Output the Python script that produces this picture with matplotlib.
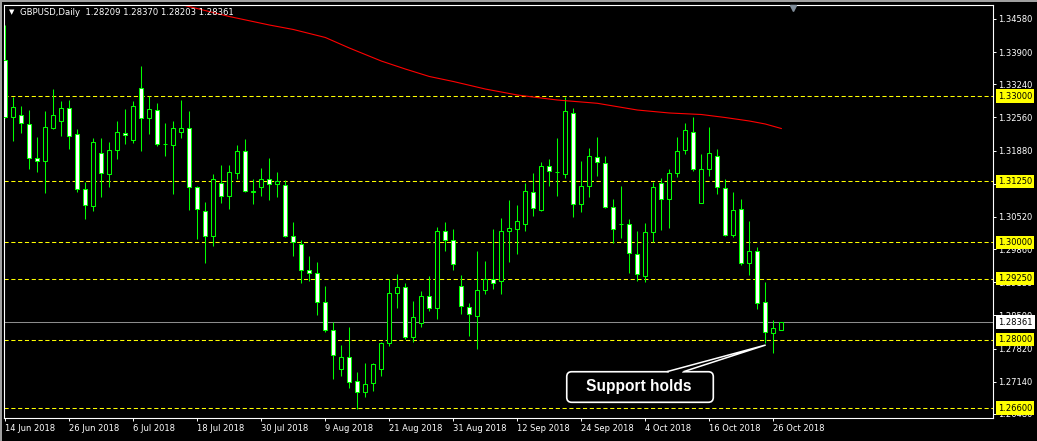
import matplotlib
matplotlib.use("Agg")
import matplotlib.pyplot as plt
from matplotlib.patches import Rectangle, FancyBboxPatch, Polygon
from matplotlib.transforms import blended_transform_factory

plt.rcParams['lines.scale_dashes'] = False
plt.rcParams['font.family'] = ['DejaVu Sans']

# GBPUSD daily candles, 14 Jun 2018 .. 29 Oct 2018 (one entry per trading day)
opens = [1.33739, 1.32564, 1.32605, 1.32426, 1.31723, 1.31661, 1.32350, 1.32494, 1.32748, 1.32215,
         1.31087, 1.30738, 1.31825, 1.31395, 1.31887, 1.32236, 1.32092, 1.33159, 1.32543, 1.32707,
         1.32020, 1.32002, 1.32256, 1.32338, 1.31128, 1.30636, 1.30123, 1.31210, 1.30943, 1.31427,
         1.31866, 1.31038, 1.31128, 1.31292, 1.31190, 1.31169, 1.30123, 1.29965, 1.29425, 1.29364,
         1.28781, 1.28195, 1.27394, 1.27641, 1.27148, 1.26923, 1.27107, 1.27394, 1.27928, 1.28966,
         1.29077, 1.28063, 1.28350, 1.28892, 1.28658, 1.30225, 1.30041, 1.29097, 1.28666, 1.28494,
         1.29015, 1.29241, 1.29200, 1.30225, 1.30279, 1.30381, 1.31025, 1.30668, 1.31559, 1.31440,
         1.31407, 1.32646, 1.30792, 1.31148, 1.31756, 1.31620, 1.30718, 1.30365, 1.30381, 1.29754,
         1.29315, 1.30205, 1.31210, 1.30882, 1.31415, 1.31887, 1.32256, 1.30812, 1.31497, 1.31764,
         1.31107, 1.30143, 1.30677, 1.29581, 1.29815, 1.28769, 1.28133, 1.28209]
highs = [1.34457, 1.32986, 1.32796, 1.32714, 1.32154, 1.32693, 1.33138, 1.32898, 1.32919, 1.32324,
         1.31231, 1.32133, 1.32139, 1.32057, 1.32488, 1.32728, 1.32898, 1.33616, 1.32995, 1.32851,
         1.32453, 1.32494, 1.32919, 1.32693, 1.31161, 1.30820, 1.31401, 1.31585, 1.31585, 1.31996,
         1.32119, 1.31292, 1.31524, 1.31729, 1.31442, 1.31272, 1.30416, 1.30047, 1.29719, 1.29589,
         1.29103, 1.28365, 1.27893, 1.28262, 1.27339, 1.27524, 1.27524, 1.27961, 1.29241, 1.29349,
         1.29165, 1.28796, 1.29001, 1.29308, 1.30314, 1.30416, 1.30273, 1.29323, 1.28755, 1.29821,
         1.29616, 1.30273, 1.30498, 1.30867, 1.30765, 1.31210, 1.31415, 1.31641, 1.31708, 1.32133,
         1.32986, 1.32755, 1.31667, 1.31928, 1.32160, 1.31764, 1.30894, 1.31155, 1.30472, 1.30232,
         1.30389, 1.31231, 1.31313, 1.31497, 1.32154, 1.32453, 1.32564, 1.31811, 1.32365, 1.31907,
         1.31292, 1.31025, 1.30882, 1.30430, 1.29903, 1.29185, 1.28406, 1.28370]
lows = [1.32549, 1.32084, 1.32248, 1.31497, 1.31448, 1.31005, 1.32330, 1.32186, 1.31907, 1.31038,
        1.30472, 1.30648, 1.30935, 1.31128, 1.31702, 1.32022, 1.32031, 1.31879, 1.32215, 1.31981,
        1.31770, 1.30991, 1.32145, 1.30662, 1.30074, 1.29569, 1.29930, 1.30812, 1.30683, 1.31298,
        1.31038, 1.30792, 1.30950, 1.30874, 1.30935, 1.30110, 1.29725, 1.29171, 1.29212, 1.28515,
        1.28166, 1.27202, 1.27257, 1.27011, 1.26580, 1.26833, 1.26956, 1.27263, 1.27873, 1.28658,
        1.28022, 1.27961, 1.28268, 1.28597, 1.28426, 1.29827, 1.29438, 1.28529, 1.28078, 1.27811,
        1.28945, 1.29048, 1.28945, 1.29602, 1.29766, 1.30238, 1.30539, 1.30648, 1.31155, 1.30956,
        1.31325, 1.30525, 1.30615, 1.30935, 1.31366, 1.30710, 1.29979, 1.30094, 1.29376, 1.29212,
        1.29192, 1.30012, 1.30258, 1.30299, 1.31333, 1.31805, 1.31462, 1.30800, 1.31366, 1.30984,
        1.30129, 1.30102, 1.29540, 1.29335, 1.28632, 1.27940, 1.27735, 1.28203]
closes = [1.32570, 1.32781, 1.32441, 1.31723, 1.31661, 1.32359, 1.32605, 1.32748, 1.32174, 1.31087,
          1.30759, 1.32051, 1.31415, 1.31887, 1.32256, 1.32195, 1.32790, 1.32543, 1.32728, 1.32010,
          1.32012, 1.32344, 1.32338, 1.31128, 1.30677, 1.30123, 1.31292, 1.30943, 1.31436, 1.31866,
          1.31046, 1.31046, 1.31292, 1.31190, 1.31251, 1.30123, 1.30000, 1.29425, 1.29364, 1.28781,
          1.28207, 1.27682, 1.27641, 1.27140, 1.26923, 1.27087, 1.27497, 1.27928, 1.28954, 1.29077,
          1.28063, 1.28461, 1.28892, 1.28658, 1.30225, 1.30053, 1.29561, 1.28687, 1.28523, 1.29015,
          1.29241, 1.29159, 1.30225, 1.30287, 1.30430, 1.31046, 1.30697, 1.31559, 1.31456, 1.31432,
          1.32687, 1.30779, 1.31148, 1.31764, 1.31641, 1.30730, 1.30266, 1.30373, 1.29774, 1.29343,
          1.30205, 1.31128, 1.30882, 1.31415, 1.31866, 1.32297, 1.31497, 1.31497, 1.31825, 1.31128,
          1.30143, 1.30656, 1.29581, 1.29815, 1.28765, 1.28154, 1.28248, 1.28361]

# moving average (red line), read at a few bars
ma_idx = [16, 22, 28, 33, 36, 40, 43, 47, 50, 53, 56, 60, 64, 69, 74, 79, 83, 87, 90, 93, 95, 97]
ma_val = [1.35124, 1.34875, 1.34631, 1.34457, 1.34365, 1.34201, 1.33985, 1.33718, 1.33554, 1.33401,
          1.33298, 1.33144, 1.33021, 1.32918, 1.32851, 1.32713, 1.32652, 1.32621, 1.32559, 1.32488,
          1.32426, 1.32334]

date_idx = [0, 8, 16, 24, 32, 40, 48, 56, 64, 72, 80, 88, 96]
date_labels = ["14 Jun 2018", "26 Jun 2018", "6 Jul 2018", "18 Jul 2018", "30 Jul 2018",
               "9 Aug 2018", "21 Aug 2018", "31 Aug 2018", "12 Sep 2018", "24 Sep 2018",
               "4 Oct 2018", "16 Oct 2018", "26 Oct 2018"]
price_ticks = [1.34580, 1.33900, 1.33240, 1.32560, 1.31880, 1.31200, 1.30520,
               1.29860, 1.29180, 1.28500, 1.27820, 1.27140, 1.26480]
levels = [1.33000, 1.31250, 1.30000, 1.29250, 1.28000, 1.26600]
last_price = 1.28361
header = "GBPUSD,Daily  1.28209 1.28370 1.28203 1.28361"

GREEN = "#00FF00"
W, H = 1037, 441
FS = 6.0

fig = plt.figure(figsize=(W / 100, H / 100), dpi=100, facecolor="black")
ax = fig.add_axes([4 / W, 23 / H, 988.5 / W, 413 / H])
ax.set_facecolor("black")
ax.set_xlim(-0.1625, 123.4)
ax.set_ylim(1.26396, 1.34867)

# support / resistance levels
for lev in levels:
    ax.axhline(lev, color="#FFFF00", lw=0.75, ls=(0, (3.0, 1.9)), zorder=1)
ax.axhline(last_price, color="#8c8c8c", lw=0.75, zorder=1)

# candles
ax.vlines(range(len(opens)), lows, highs, color=GREEN, lw=0.75, zorder=2)
for i, (o, c) in enumerate(zip(opens, closes)):
    face = "white" if c < o else "black"
    ax.add_patch(Rectangle((i - 0.25, min(o, c)), 0.5, abs(c - o),
                           facecolor=face, edgecolor=GREEN, lw=0.75, zorder=3))

ax.plot(ma_idx, ma_val, color="#FF0000", lw=0.8, zorder=2)

# axes styling
for s in ax.spines.values():
    s.set_color("white")
    s.set_linewidth(0.8)
ax.yaxis.tick_right()
ax.set_yticks(price_ticks)
ax.set_yticklabels([f"{p:.5f}" for p in price_ticks])
ax.tick_params(axis="y", colors="white", length=2.2, width=0.7, pad=1.5, labelsize=FS,
               left=False, right=True, labelleft=False, labelright=True)
ax.set_xticks(date_idx)
ax.set_xticklabels(date_labels)
ax.tick_params(axis="x", colors="white", length=2.2, width=0.7, pad=1.8, labelsize=FS)
for lab in ax.get_xticklabels():
    lab.set_horizontalalignment("left")

# price labels on the right axis
trans = blended_transform_factory(ax.transAxes, ax.transData)
for lev in levels:
    ax.text(1.0056, lev, f"{lev:.5f}", transform=trans, ha="left", va="center",
            fontsize=FS, color="black", clip_on=False, zorder=5,
            bbox=dict(boxstyle="square,pad=0.25", fc="#FFFF00", ec="none"))
ax.text(1.0056, last_price, f"{last_price:.5f}", transform=trans, ha="left", va="center",
        fontsize=FS, color="black", clip_on=False, zorder=5,
        bbox=dict(boxstyle="square,pad=0.3", fc="white", ec="none"))

# chart shift marker
ax.plot([98.5], [0.992], transform=blended_transform_factory(ax.transData, ax.transAxes),
        marker="v", ms=5, color="#7f8c99", clip_on=False, zorder=6)

# header
fig.text(11.5 / W, 1 - 12.5 / H, "\u25BC", color="white", fontsize=5, ha="center", va="center")
fig.text(20 / W, 1 - 12.7 / H, header, color="white", fontsize=6.1, ha="left", va="center")

# window borders
fig.patches.append(Rectangle((0, 1 - 2 / H), 1, 2 / H, transform=fig.transFigure,
                             fc="#a0a0a0", ec="none"))
fig.patches.append(Rectangle((0, 0), 2 / W, 1, transform=fig.transFigure,
                             fc="#a0a0a0", ec="none"))

# "Support holds" callout
box_x0, box_x1 = 70.18, 88.5
box_y0, box_y1 = 1.26718, 1.27345
ax.add_patch(FancyBboxPatch((box_x0, box_y0), box_x1 - box_x0, box_y1 - box_y0,
                            boxstyle="round,pad=0,rounding_size=0.625", mutation_aspect=8 / 4875,
                            fc="black", ec="white", lw=1.2, zorder=6))
ax.plot([82.9, 84.55], [box_y1, box_y1], color="black", lw=1.6, zorder=7, solid_capstyle="butt")
ax.add_patch(Polygon([(82.67, box_y1), (95.05, 1.27893), (84.75, box_y1)], closed=False,
                     fc="black", ec="white", lw=1.1, zorder=7))
ax.text(79.2, 1.27042, "Support holds", color="white", fontsize=11.2, fontweight="bold",
        family="Liberation Sans", ha="center", va="center", zorder=8)

fig.savefig("out.png", dpi=100, facecolor="black")
